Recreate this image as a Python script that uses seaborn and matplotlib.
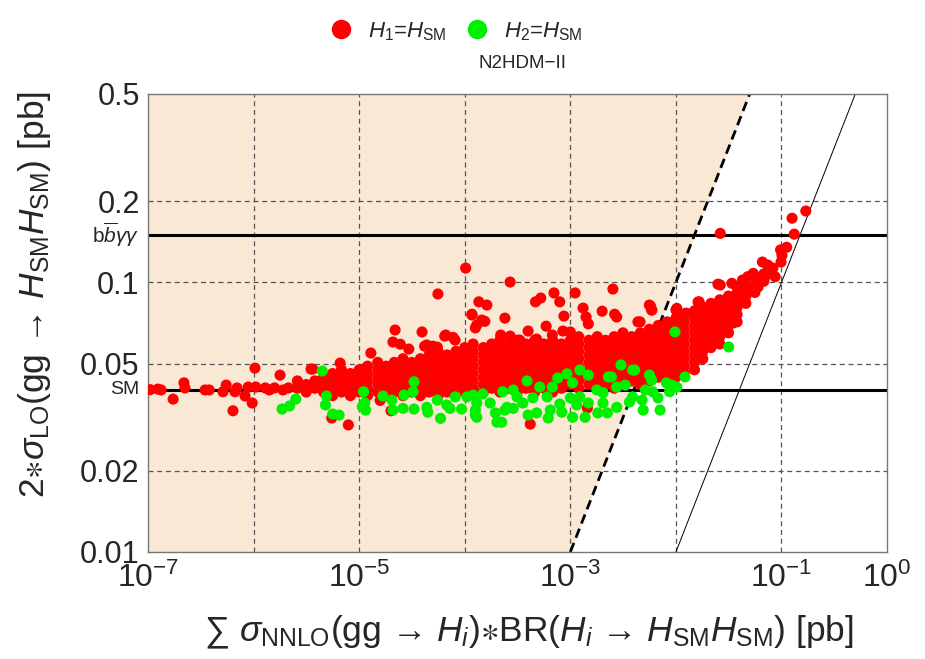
import numpy as np
import pandas as pd
import seaborn as sns
import matplotlib.pyplot as plt
from matplotlib.lines import Line2D

sns.set_theme(style="white")
plt.rcParams["font.family"] = ["Liberation Sans", "DejaVu Sans"]
plt.rcParams["mathtext.fontset"] = "custom"
plt.rcParams["mathtext.rm"] = "Liberation Sans"
plt.rcParams["mathtext.it"] = "Liberation Sans:italic"
plt.rcParams["mathtext.bf"] = "Liberation Sans:bold"
plt.rcParams["mathtext.fallback"] = "stixsans"

# %% data
# sparse H1 = HSM points
red_x = [
    1.05e-7, 1.24e-7, 1.33e-7, 1.73e-7, 2.19e-7, 2.24e-7, 3.47e-7, 3.8e-7, 5.13e-7, 5.5e-7,
    6.38e-7, 6.67e-7, 6.97e-7, 8.3e-7, 8.9e-7, 9.7e-7, 1.03e-6, 1.05e-6, 1.29e-6, 1.41e-6,
    1.58e-6, 1.78e-6, 1.9e-6, 2.14e-6, 3.5e-6, 7.9e-6, 5.5e-6, 3.63e-6, 6.6e-6, 1.58e-5,
    2.0e-5, 5.57e-5, 2.19e-5, 3.94e-5, 2.09e-5, 2.45e-5, 2.95e-5, 1.29e-5, 6.6e-5, 8.1e-5,
    1.17e-4, 1.3e-4, 4.37e-5, 5.5e-5, 6.46e-5, 7.76e-5, 4.17e-5, 5.0e-5,
    1.02e-4, 2.69e-4, 7.0e-4, 1.11e-3, 2.53e-3, 1.36e-4, 1.62e-4, 4.68e-4, 5.25e-4, 7.94e-4,
    1.32e-3, 2.0e-3, 2.63e-3, 1.17e-4, 2.4e-4, 8.7e-4, 1.41e-3, 4.37e-3, 1.26e-4, 1.55e-4,
    3.98e-4, 5.9e-4, 6.76e-4, 8.5e-4, 1.0e-3, 2.19e-4, 2.69e-4, 3.31e-4, 4.79e-4, 4.17e-4,
    1.45e-3, 1.48e-3, 2.75e-3, 5.6e-3, 5.9e-3, 1.0e-2, 1.24e-2, 1.66e-2, 2.5e-2, 1.45e-4,
    1.7e-1, 1.26e-1, 1.32e-1, 2.63e-2, 1.12e-1, 9.8e-2, 1.01e-1, 9.9e-2, 6.6e-2, 7.4e-2,
    8.3e-2, 7.2e-2, 6.9e-2, 8.7e-2, 5.4e-2, 4.8e-2, 4.27e-2, 4.47e-2, 6.0e-2, 5.25e-2,
    2.63e-2, 3.39e-2, 3.8e-2, 1.62e-2, 5.75e-3, 5.9e-3, 4.57e-3, 1.02e-2, 1.05e-2, 1.26e-2,
    3.47e-2, 3.63e-2,
]
red_y = [
    0.0400, 0.0402, 0.0399, 0.0369, 0.0424, 0.0406, 0.0399, 0.0399, 0.0393, 0.0416,
    0.0334, 0.0393, 0.0406, 0.0379, 0.0409, 0.0357, 0.0481, 0.0409, 0.0406, 0.0399,
    0.0406, 0.0453, 0.0399, 0.0406, 0.0477, 0.0296, 0.0314, 0.0477, 0.0502, 0.0365,
    0.0334, 0.0906, 0.0666, 0.0655, 0.0601, 0.0590, 0.0566, 0.0547, 0.0638, 0.0611,
    0.0757, 0.0695, 0.0586, 0.0575, 0.0632, 0.0625, 0.0580, 0.0580,
    0.113, 0.1003, 0.0914, 0.0914, 0.0945, 0.0847, 0.0824, 0.0847, 0.0875, 0.0847,
    0.0803, 0.0782, 0.0762, 0.0762, 0.0737, 0.0750, 0.0744, 0.0714, 0.0678, 0.0717,
    0.0660, 0.0688, 0.0638, 0.0660, 0.0655, 0.0638, 0.0632, 0.0611, 0.0616, 0.0298,
    0.0342, 0.0702, 0.0744, 0.0824, 0.0790, 0.0790, 0.0768, 0.0847, 0.0985, 0.0725,
    0.184, 0.173, 0.151, 0.152, 0.135, 0.132, 0.126, 0.119, 0.119, 0.116,
    0.113, 0.108, 0.104, 0.105, 0.108, 0.105, 0.102, 0.0992, 0.0962, 0.0937,
    0.0978, 0.0992, 0.0962, 0.0846, 0.0816, 0.0790, 0.0714, 0.0801, 0.0743, 0.0768,
    0.0707, 0.0714,
]

# dense H1 = HSM band, one entry per column of points
core_x = [
    2.6e-6, 3.15e-6, 3.8e-6, 4.6e-6, 5.6e-6, 6.8e-6, 8.25e-6,
    1e-5, 1.2e-5, 1.5e-5, 1.8e-5, 2.15e-5, 2.6e-5, 3.15e-5, 3.8e-5, 4.6e-5, 5.6e-5, 6.8e-5, 8.25e-5,
    1e-4, 1.2e-4, 1.5e-4, 1.8e-4, 2.15e-4, 2.6e-4, 3.15e-4, 3.8e-4, 4.6e-4, 5.6e-4, 6.8e-4, 8.25e-4,
    1e-3, 1.2e-3, 1.5e-3, 1.8e-3, 2.15e-3, 2.6e-3, 3.15e-3, 3.8e-3, 4.6e-3, 5.6e-3, 6.8e-3, 8.25e-3,
    1e-2, 1.2e-2, 1.5e-2, 1.8e-2, 2.15e-2, 2.6e-2, 3.15e-2, 3.8e-2, 4.6e-2, 5.6e-2, 6.8e-2,
]
core_y = [
    [.0405, .0431],
    [.0392, .0418],
    [.0405, .0431],
    [.0392, .0418, .0445],
    [.038, .0405, .0431, .0459],
    [.0392, .0418, .0445, .0474],
    [.038, .0405, .0431, .0459],
    [.0392, .0418, .0445, .0474],
    [.038, .0405, .0431, .0459, .0489],
    [.0392, .0418, .0445, .0474, .0505],
    [.038, .0405, .0431, .0459, .0489],
    [.0392, .0418, .0445, .0474, .0505],
    [.038, .0405, .0431, .0459, .0489, .0521],
    [.0392, .0418, .0445, .0474, .0505],
    [.038, .0405, .0431, .0459, .0489, .0521],
    [.0392, .0418, .0445, .0474, .0505, .0538],
    [.038, .0405, .0431, .0459, .0489, .0521, .0555],
    [.0392, .0418, .0445, .0474, .0505, .0538],
    [.0405, .0431, .0459, .0489, .0521, .0555],
    [.0392, .0418, .0445, .0474, .0505, .0538, .0573],
    [.0405, .0431, .0459, .0489, .0521, .0555, .0591],
    [.0392, .0418, .0445, .0474, .0505, .0538, .0573],
    [.0405, .0431, .0459, .0489, .0521, .0555, .0591],
    [.0392, .0418, .0445, .0474, .0505, .0538, .0573, .061],
    [.0405, .0431, .0459, .0489, .0521, .0555, .0591],
    [.0392, .0418, .0445, .0474, .0505, .0538, .0573, .061],
    [.0405, .0431, .0459, .0489, .0521, .0555, .0591],
    [.0392, .0418, .0445, .0474, .0505, .0538, .0573, .061],
    [.0405, .0431, .0459, .0489, .0521, .0555, .0591],
    [.0392, .0418, .0445, .0474, .0505, .0538, .0573, .061],
    [.0405, .0431, .0459, .0489, .0521, .0555, .0591],
    [.0418, .0445, .0474, .0505, .0538, .0573, .061],
    [.0405, .0431, .0459, .0489, .0521, .0555, .0591, .0629],
    [.0418, .0445, .0474, .0505, .0538, .0573, .061],
    [.0405, .0431, .0459, .0489, .0521, .0555, .0591, .0629],
    [.0418, .0445, .0474, .0505, .0538, .0573, .061],
    [.0405, .0431, .0459, .0489, .0521, .0555, .0591, .0629],
    [.0418, .0445, .0474, .0505, .0538, .0573, .061, .065],
    [.0431, .0459, .0489, .0521, .0555, .0591, .0629],
    [.0418, .0445, .0474, .0505, .0538, .0573, .061, .065],
    [.0431, .0459, .0489, .0521, .0555, .0591, .0629, .067],
    [.0445, .0474, .0505, .0538, .0573, .061, .065, .0692],
    [.0431, .0459, .0489, .0521, .0555, .0591, .0629, .067, .0714],
    [.0445, .0474, .0505, .0538, .0573, .061, .065, .0692, .0737],
    [.0459, .0489, .0521, .0555, .0591, .0629, .067, .0714],
    [.0474, .0505, .0538, .0573, .061, .065, .0692, .0737, .0785],
    [.0521, .0555, .0591, .0629, .067, .0714, .076, .0809],
    [.0573, .061, .065, .0692, .0737, .0785, .0836],
    [.0591, .0629, .067, .0714, .076, .0809, .0862],
    [.065, .0692, .0737, .0785, .0836, .089],
    [.0714, .076, .0809, .0862, .0918],
    [.0836, .089, .0948],
    [.0918, .0978, .104],
    [.101, .1075],
]

# H2 = HSM points
green_x = [
    1.86e-6, 2.19e-6, 2.51e-6, 4.47e-6, 4.9e-6, 4.79e-6, 5.62e-6, 6.46e-6, 1.07e-5, 1.13e-5,
    1.1e-5, 1.15e-5, 1.68e-5, 2.04e-5, 2.09e-5, 2.6e-5, 2.66e-5, 3.31e-5, 3.24e-5, 3.31e-5,
    4.37e-5, 4.47e-5, 5.5e-5, 5.9e-5, 6.76e-5, 7.24e-5, 8.13e-5, 9.33e-5, 1.05e-4, 1.2e-4,
    1.26e-4, 1.3e-4, 3.02e-3, 3.89e-3, 1.23e-3, 1.48e-3, 9.3e-4, 7.6e-4, 2.29e-3, 2.45e-3,
    3.89e-4, 1.05e-3, 5.13e-4, 6.76e-4, 2.88e-4, 2.29e-4, 2.75e-3, 3.31e-3, 1.48e-4, 1.78e-3,
    2.04e-3, 3.13e-4, 4.42e-4, 6.03e-4, 1.0e-3, 1.23e-3, 1.3e-4, 1.74e-4, 2.51e-4, 3.55e-4,
    7.94e-4, 1.15e-3, 1.48e-3, 2.04e-3, 2.75e-3, 3.63e-3, 1.26e-4, 1.95e-4, 2.4e-4, 2.88e-4,
    3.98e-4, 4.79e-4, 6.46e-4, 8.3e-4, 1.05e-3, 1.38e-3, 1.82e-3, 2.24e-3, 2.02e-4, 2.24e-4,
    6.17e-4, 9.8e-3, 3.16e-2, 1.22e-2, 4.07e-3, 5.62e-3, 5.89e-3, 8.13e-3, 9.12e-3, 1.02e-2,
    8.7e-3, 5.13e-3, 6.03e-3, 6.76e-3, 3.89e-3, 4.79e-3, 4.9e-3, 7.08e-3,
]
green_y = [
    0.0339, 0.0348, 0.0369, 0.0469, 0.0379, 0.0351, 0.0325, 0.0322, 0.0346, 0.0357,
    0.0393, 0.0336, 0.0379, 0.0366, 0.0336, 0.0341, 0.0382, 0.0428, 0.0393, 0.0339,
    0.0344, 0.0330, 0.0366, 0.0313, 0.0351, 0.0341, 0.0376, 0.0339, 0.0376, 0.0382,
    0.0336, 0.0316, 0.0494, 0.0473, 0.0473, 0.0453, 0.0458, 0.0442, 0.0446, 0.0446,
    0.0431, 0.0424, 0.0409, 0.0409, 0.0399, 0.0393, 0.0409, 0.0416, 0.0386, 0.0399,
    0.0390, 0.0376, 0.0373, 0.0376, 0.0373, 0.0376, 0.0357, 0.0357, 0.0344, 0.0357,
    0.0354, 0.0351, 0.0357, 0.0357, 0.0344, 0.0360, 0.0322, 0.0328, 0.0336, 0.0341,
    0.0322, 0.0328, 0.0336, 0.0330, 0.0316, 0.0316, 0.0328, 0.0328, 0.0303, 0.0303,
    0.0314, 0.0655, 0.0576, 0.0446, 0.0473, 0.0453, 0.0434, 0.0424, 0.0416, 0.0409,
    0.0393, 0.0399, 0.0393, 0.0373, 0.0376, 0.0366, 0.0336, 0.0336,
]

# reference lines
limit_x = [1e-3, 5e-2]        # dashed edge of shaded region
limit_y = [0.01, 0.5]
diag_x = [1e-2, 0.5]          # thin solid line
diag_y = [0.01, 0.5]
sm_value = 0.04
bbgg_value = 0.15

xtick_vals = [1e-7, 1e-5, 1e-3, 1e-1, 1e0]
xtick_labels = [r"$10^{-7}$", r"$10^{-5}$", r"$10^{-3}$", r"$10^{-1}$", r"$10^{0}$"]
ytick_vals = [0.01, 0.02, 0.05, 0.1, 0.2, 0.5]
ytick_labels = ["0.01", "0.02", "0.05", "0.1", "0.2", "0.5"]
xgrid_vals = [1e-6, 1e-5, 1e-4, 1e-3, 1e-2, 1e-1]
ygrid_vals = [0.02, 0.05, 0.1, 0.2]

# %% build table
cx, cy = [], []
for x, ys in zip(core_x, core_y):
    cx += [x] * len(ys)
    cy += ys
df = pd.concat([
    pd.DataFrame({"x": cx + red_x, "y": cy + red_y, "set": "H1"}),
    pd.DataFrame({"x": green_x, "y": green_y, "set": "H2"}),
], ignore_index=True)

red = "#ff0000"
green = "#00f000"
beige = "#f8e8d4"

# %% plot
fig = plt.figure(figsize=(9.25, 6.59), dpi=100)
ax = fig.add_axes([0.160, 0.1624, 0.799, 0.6950])
ax.set_xscale("log")
ax.set_yscale("log")
ax.set_xlim(1e-7, 1)
ax.set_ylim(0.01, 0.5)

ax.fill_betweenx(limit_y, [1e-7, 1e-7], limit_x, color=beige, lw=0, zorder=0)
for v in xgrid_vals:
    ax.axvline(v, color="#555555", lw=0.9, ls=(0, (4, 3)), zorder=1)
for v in ygrid_vals:
    ax.axhline(v, color="#555555", lw=0.9, ls=(0, (4, 3)), zorder=1)
ax.plot(limit_x, limit_y, color="black", lw=2, ls=(0, (3.5, 2)), zorder=2)
ax.plot(diag_x, diag_y, color="black", lw=0.7, zorder=2)
ax.axhline(sm_value, color="black", lw=2.2, zorder=2)
ax.axhline(bbgg_value, color="black", lw=2.2, zorder=2)

sns.scatterplot(data=df, x="x", y="y", hue="set", palette={"H1": red, "H2": green},
                s=64, linewidth=0, alpha=1, legend=False, ax=ax, zorder=3)

ax.set_xticks(xtick_vals)
ax.set_xticklabels(xtick_labels)
ax.set_yticks(ytick_vals)
ax.set_yticklabels(ytick_labels)
ax.minorticks_off()
ax.tick_params(axis="x", length=0, labelsize=23, pad=8)
ax.tick_params(axis="y", length=0, labelsize=22, pad=6)
ax.text(-0.012, sm_value, "SM", transform=ax.get_yaxis_transform(), ha="right",
        va="center", fontsize=14)
ax.text(-0.012, bbgg_value, r"b$\overline{b}\gamma\gamma$", transform=ax.get_yaxis_transform(),
        ha="right", va="center", fontsize=15)
for sp in ax.spines.values():
    sp.set_color("#777777")
    sp.set_linewidth(1)

ax.set_xlabel(r"$\sum\ \sigma_{\mathrm{NNLO}}$(gg → $H_i$)$\ast$BR($H_i$ → $H_{\mathrm{SM}}H_{\mathrm{SM}}$) [pb]",
              fontsize=25.5)
ax.xaxis.set_label_coords(0.515, -0.135)
ax.set_ylabel(r"2$\ast\sigma_{\mathrm{LO}}$(gg → $H_{\mathrm{SM}}H_{\mathrm{SM}}$) [pb]",
              fontsize=25.5)
ax.yaxis.set_label_coords(-0.128, 0.563)
ax.set_title("N2HDM−II", fontsize=13.5, pad=19, x=0.507)

handles = [
    Line2D([], [], marker="o", ls="", color=red, markersize=13, label=r"$H_1$=$H_{\mathrm{SM}}$"),
    Line2D([], [], marker="o", ls="", color=green, markersize=13, label=r"$H_2$=$H_{\mathrm{SM}}$"),
]
fig.legend(handles=handles, loc="upper center", bbox_to_anchor=(0.487, 1.0), ncol=2,
           frameon=False, fontsize=16, handletextpad=0.2, columnspacing=0.4)

fig.savefig("out.png", dpi=100)
